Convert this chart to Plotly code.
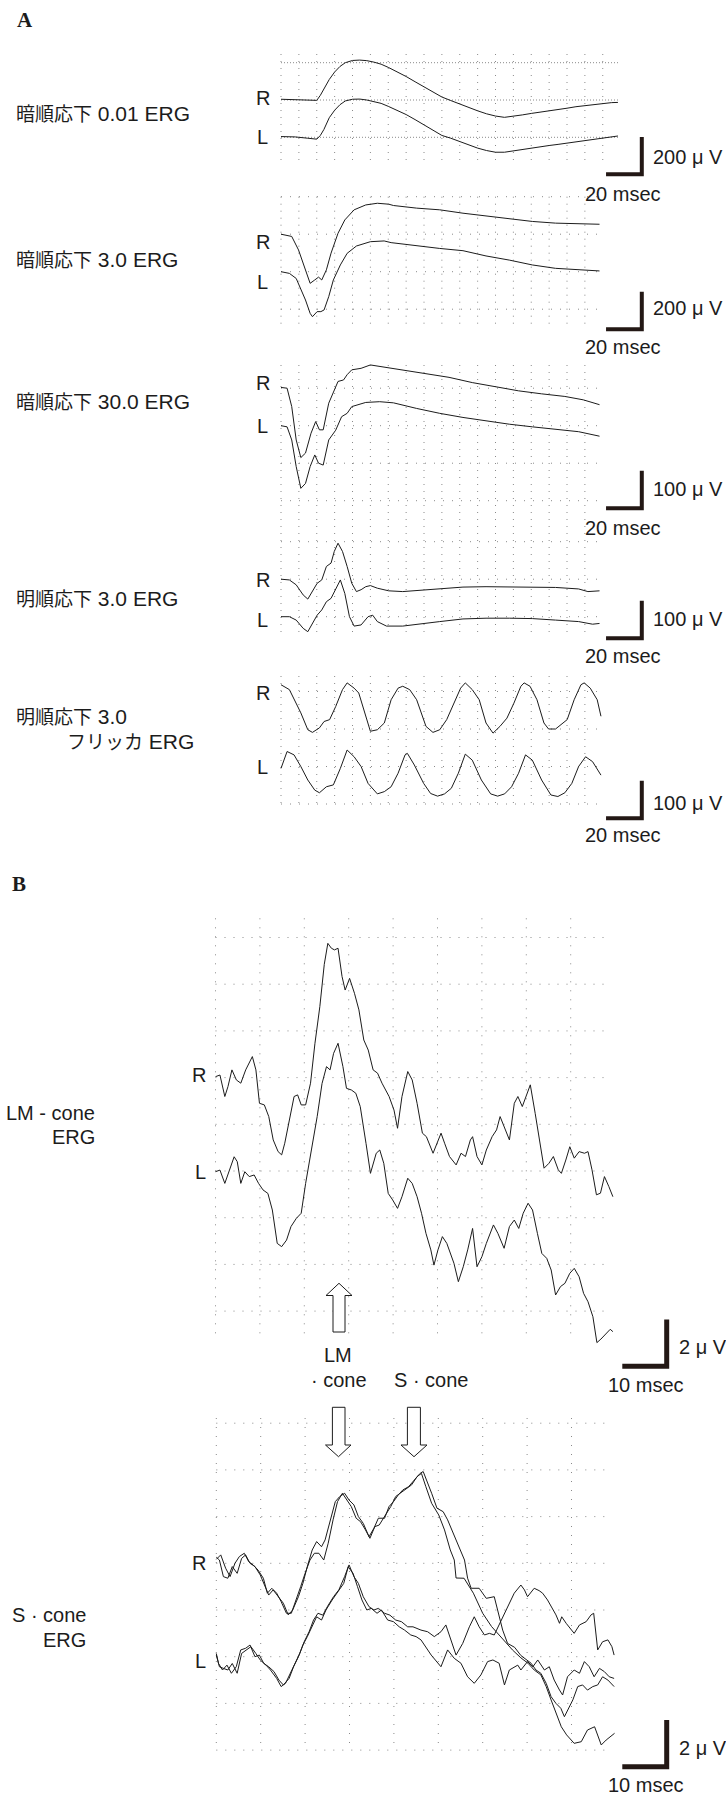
import plotly.graph_objects as go

W, H = 726, 1796
INK = "#1c1c1c"
BAR = "#231815"
GRID = "#8a8a8a"
SANS = "Liberation Sans, Arial, Noto Sans CJK JP, sans-serif"
SERIF = "Liberation Serif, Times New Roman, serif"

# ---------------------------------------------------------------------------
# Waveforms: (time in msec, amplitude in uV relative to each eye's baseline)
# ---------------------------------------------------------------------------
# A: ISCEV standard ERG
DARK001_R = [(0, 4), (8, 2), (15, -2), (20, -2), (22, 25), (24, 60), (27, 110), (30, 150), (33, 180),
             (36, 200), (40, 212), (44, 214), (48, 211), (52, 203), (56, 192), (60, 175), (65, 152),
             (70, 126), (75, 98), (80, 70), (85, 40), (90, 16), (95, -3), (100, -22), (105, -40),
             (110, -58), (115, -74), (120, -86), (125, -93), (130, -88), (135, -80), (140, -72),
             (145, -66), (150, -58), (155, -52), (160, -44), (165, -36), (170, -30), (175, -24),
             (180, -17), (185, -14), (188.5, -13)]
DARK001_L = [(0, 4), (8, 2), (15, -5), (20, -10), (22, 10), (24, 42), (27, 105), (30, 145), (33, 175),
             (36, 195), (40, 204), (44, 205), (48, 200), (52, 192), (56, 182), (60, 166), (65, 146),
             (70, 122), (75, 95), (80, 66), (85, 36), (90, 10), (95, -5), (100, -24), (105, -42),
             (110, -58), (115, -71), (120, -80), (125, -80), (130, -72), (135, -65), (140, -58),
             (145, -50), (150, -44), (155, -38), (160, -31), (165, -24), (170, -18), (175, -11),
             (180, -3), (185, 3), (188.5, 7)]

DARK30_R = [(0, 0), (6, -12), (9.8, -84), (13.7, -190), (16.3, -262), (18.9, -244), (21, -229),
            (22.8, -244), (25.4, -190), (28, -101), (31.9, 5), (35.7, 76), (40.9, 130), (47.4, 156),
            (53.9, 165), (60.3, 160), (62.9, 153), (75.9, 139), (88.8, 130), (101.8, 112), (114.7, 98),
            (127.7, 80), (140.6, 68), (153.6, 59), (166.5, 55), (178.2, 53)]
DARK30_L = [(0, 0), (4.7, -9), (8.5, -36), (11.1, -89), (13.7, -151), (16.3, -222), (17.6, -240),
            (20.2, -213), (22.3, -213), (24.1, -204), (26.7, -133), (29.3, -44), (33.2, 36), (37, 98),
            (42.2, 137), (50, 160), (57.7, 164), (61.6, 155), (75.9, 137), (88.8, 124), (101.8, 112),
            (114.7, 84), (127.7, 62), (140.6, 36), (153.6, 18), (166.5, 9), (178.2, 4)]

DARK300_R = [(0, 2), (3.4, 0), (6, -49), (8.5, -138), (11.1, -185), (13.7, -173), (16.8, -120),
             (19.4, -89), (21.5, -111), (23.6, -111), (26.7, -40), (29.8, -4), (31.9, 18), (35, 22),
             (37, 36), (39.6, 49), (44.8, 53), (50, 62), (57.8, 56), (68.1, 49), (81.1, 40), (94, 29),
             (107, 15), (120, 3), (132.9, -7), (145.8, -15), (158.8, -22), (169.1, -31), (178.2, -44)]
DARK300_L = [(0, 0), (3.4, -3), (6, -38), (8.5, -109), (11.1, -167), (13.7, -154), (16.3, -109),
             (18.9, -78), (21, -100), (23.6, -105), (26.7, -38), (30.6, -12), (33.9, 24), (37, 33),
             (39.6, 51), (47.4, 62), (55.2, 64), (62.9, 61), (75.9, 46), (88.8, 33), (101.8, 22),
             (114.7, 13), (127.7, 4), (140.6, -3), (153.6, -10), (166.5, -16), (178.2, -28)]

LIGHT30_R = [(0, 0), (4.7, -2), (8.5, -15), (12.4, -42), (15, -53), (17.6, -33), (20.2, -11), (22.8, -2),
             (25.4, 34), (28, 43), (29.8, 74), (31.9, 96), (34.4, 74), (37, 34), (39.6, -11), (42.2, -33),
             (44.8, -28), (47.4, -20), (50, -17), (53.9, -24), (60.3, -31), (68.1, -33), (75.9, -30),
             (83.7, -28), (91.4, -24), (101.8, -21), (114.7, -20), (127.7, -20), (140.6, -20),
             (153.6, -22), (166.5, -26), (171.7, -33), (178.2, -31)]
LIGHT30_L = [(0, 0), (4.7, 0), (8.5, -9), (12.4, -31), (15, -40), (17.6, -18), (20.2, 4), (22.8, 18),
             (25.4, 40), (28, 49), (29.8, 67), (33.2, 98), (35.7, 62), (38.3, 0), (40.9, -25), (44.8, -22),
             (48.7, 0), (51.3, 4), (53.9, -13), (59, -25), (68.1, -25), (75.9, -20), (88.8, -13),
             (101.8, -6), (114.7, -4), (127.7, -4), (140.6, -5), (153.6, -9), (166.5, -13), (174.3, -20),
             (178.2, -18)]

FLICKER_R = [(0, 118), (4.7, 105), (11.1, 43), (15, -2), (17.6, -9), (21.5, 3), (24.1, 20), (27.2, 25),
             (30.6, 60), (34.4, 105), (37, 123), (40.9, 109), (43.5, 96), (47.4, 34), (50, -6), (53.9, -2),
             (57.8, 16), (61.6, 78), (65.5, 109), (68.1, 114), (72, 105), (75.9, 78), (81.1, 7), (85, -9),
             (88.8, -2), (92.7, 25), (96.6, 69), (100.5, 109), (103.1, 123), (107, 105), (110.9, 78),
             (114.7, 16), (118.6, -11), (122.5, 7), (126.4, 29), (130.3, 69), (134.2, 114), (136, 123),
             (139.3, 114), (143.2, 78), (147.1, 16), (149.7, 0), (153.6, 0), (157.5, 14), (160.1, 25),
             (164, 78), (167.8, 118), (169.6, 123), (173, 109), (176.9, 78), (179, 34)]
FLICKER_L = [(0, 95), (3.4, 140), (7.3, 131), (11.1, 100), (15, 64), (18.9, 37), (21.5, 30), (25.4, 46),
             (29.3, 51), (33.2, 95), (37, 144), (40.9, 126), (44.8, 100), (48.7, 55), (53.9, 27), (57.8, 33),
             (61.6, 46), (65.5, 82), (69.4, 131), (70.7, 135), (74.6, 104), (79.8, 55), (83.7, 28),
             (87.6, 21), (91.5, 27), (95.3, 42), (99.2, 82), (103.1, 133), (107, 117), (112.1, 64),
             (117.3, 27), (121.2, 21), (125.1, 27), (129, 46), (132.9, 82), (136.8, 131), (140.6, 117),
             (145.8, 64), (151, 24), (154.9, 20), (158.8, 30), (162.7, 55), (166.5, 100), (170.4, 126),
             (174.3, 113), (179, 77)]

# B: LM-cone and S-cone ERG
LM_R = [(0, 0.04), (1.0, 0.11), (2.1, -0.81), (2.8, -0.39), (3.7, 0.33), (4.7, -0.1), (5.7, -0.24),
        (6.8, 0.33), (8.3, 0.9), (9.1, 0.33), (9.9, -1.1), (11.0, -1.17), (12.0, -1.67), (13.0, -2.67),
        (14.1, -3.17), (14.9, -3.31), (15.6, -2.81), (16.7, -1.67), (17.7, -0.81), (18.5, -0.74),
        (19.3, -1.17), (20.3, -1.17), (21.4, -0.24), (22.4, 1.47), (23.5, 3.04), (24.5, 4.85),
        (25.3, 5.75), (26.1, 5.54), (26.8, 5.47), (27.6, 5.54), (28.5, 4.33), (29.2, 3.75), (30.2, 4.25),
        (31.3, 3.61), (32.3, 2.9), (33.4, 1.61), (34.4, 1.18), (35.5, 0.33), (36.5, 0.19), (37.5, -0.24),
        (39.1, -0.81), (40.2, -1.39), (41.0, -2.17), (42.0, -0.81), (43.3, 0.26), (44.3, -0.1),
        (45.4, -1.1), (46.6, -2.38), (47.5, -2.53), (49.0, -3.24), (50.1, -2.67), (50.8, -2.38),
        (51.6, -2.81), (52.7, -3.38), (54.2, -3.74), (55.3, -3.24), (56.3, -3.38), (57.4, -2.67),
        (57.9, -2.53), (58.9, -3.38), (60.0, -3.74), (61.0, -3.1), (62.3, -2.53), (63.3, -2.24),
        (64.1, -1.67), (65.2, -2.24), (66.2, -2.67), (67.3, -1.1), (68.1, -0.81), (69.1, -1.24),
        (69.9, -0.81), (70.9, -0.31), (72.0, -1.53), (73.0, -2.81), (74.0, -3.88), (75.1, -3.67),
        (76.1, -3.38), (77.2, -3.95), (77.9, -4.1), (78.9, -3.53), (79.8, -2.96), (80.8, -3.45),
        (81.9, -3.17), (83.1, -3.24), (83.9, -3.17), (84.8, -3.95), (85.8, -5.02), (86.7, -4.95),
        (87.6, -4.24), (88.6, -4.67), (89.5, -5.1)]
LM_L = [(0, -0.03), (1.0, 0.04), (2.1, -0.53), (3.1, 0.04), (4.2, 0.61), (4.9, 0.4), (5.7, -0.53),
        (6.6, -0.03), (7.6, -0.24), (8.7, -0.17), (9.7, -0.53), (10.7, -0.81), (11.8, -0.96),
        (12.8, -1.67), (13.9, -3.1), (14.9, -3.24), (16.0, -2.96), (17.0, -2.38), (18.2, -2.03),
        (19.3, -1.81), (20.3, -0.53), (21.6, 0.9), (22.9, 2.33), (24.0, 3.75), (25.0, 4.47), (25.8, 4.33),
        (26.6, 5.04), (27.6, 5.47), (28.7, 4.47), (29.5, 3.54), (30.6, 3.47), (31.6, 3.33), (32.6, 2.76),
        (33.9, 1.18), (34.9, -0.1), (36.2, 0.76), (37.0, 0.9), (37.9, 0.33), (38.9, -0.96), (39.9, -1.24),
        (41.0, -1.6), (42.0, -1.1), (43.3, -0.31), (44.3, -0.53), (45.4, -1.1), (46.4, -1.81),
        (47.4, -2.67), (48.5, -3.38), (49.2, -4.03), (50.1, -3.38), (51.1, -2.81), (52.1, -3.1),
        (53.7, -3.95), (54.7, -4.74), (55.8, -4.1), (56.8, -3.38), (57.9, -2.46), (58.9, -4.1),
        (60.0, -3.67), (61.0, -3.1), (62.6, -2.31), (63.6, -2.67), (65.0, -3.31), (66.2, -2.38),
        (67.3, -2.1), (68.3, -2.46), (69.3, -1.81), (70.4, -1.38), (71.4, -1.67), (72.5, -2.67),
        (73.5, -3.53), (74.6, -3.74), (75.6, -4.24), (76.6, -5.31), (77.7, -4.95), (78.7, -4.81),
        (79.8, -4.38), (80.8, -4.17), (81.9, -4.53), (82.9, -5.24), (83.9, -5.6), (85.0, -6.24),
        (85.9, -7.35), (86.8, -7.2), (88.1, -6.95), (88.9, -6.78), (89.5, -6.88)]

S_R1 = [(0, 0.26), (0.7, 0.14), (1.6, -0.57), (2.6, -0.64), (3.6, -0.14), (4.7, -0.43), (5.7, 0.21),
        (6.6, 0.36), (7.6, 0), (8.7, -0.14), (9.9, -0.5), (10.9, -1.0), (11.8, -1.36), (12.8, -1.14),
        (13.9, -1.43), (15.1, -1.71), (16.2, -2.21), (17.2, -2.0), (18.5, -1.43), (19.5, -0.86),
        (20.5, -0.14), (21.6, 0.57), (22.6, 0.93), (23.7, 0.71), (24.5, 1.0), (25.8, 2.0), (26.8, 2.64),
        (27.8, 2.86), (28.9, 3.0), (29.9, 2.71), (31.0, 2.5), (32.0, 2.0), (33.1, 1.71), (34.4, 1.14),
        (35.5, 1.5), (36.5, 1.93), (37.9, 1.93), (38.9, 2.43), (39.9, 2.64), (41.0, 2.93), (42.0, 3.14),
        (43.3, 3.28), (44.6, 3.57), (45.9, 3.85), (46.6, 3.93), (47.4, 3.57), (48.5, 3.0), (49.7, 2.36),
        (51.1, 2.21), (52.1, 1.86), (53.7, 1.14), (55.0, 0.57), (55.9, 0.14), (56.6, -0.64),
        (57.4, -1.07), (59.2, -1.07), (60.8, -1.5), (62.6, -1.43), (63.5, -2.14), (64.5, -2.86),
        (65.6, -3.43), (67.2, -3.6), (68.6, -3.95), (69.8, -4.14), (70.9, -4.28), (72.0, -4.57),
        (73.1, -4.71), (74.3, -5.14), (75.4, -5.71), (76.5, -6.0), (77.6, -6.21), (78.4, -6.57),
        (79.1, -6.28), (80.3, -5.85), (81.4, -5.28), (82.5, -5.21), (83.6, -5.43), (84.8, -5.28),
        (85.9, -5.21), (87.0, -4.86), (88.2, -5.0), (89.6, -5.28)]
S_R2 = [(0, 0.17), (1.0, 0.36), (2.1, -0.21), (3.1, -0.57), (4.2, 0.0), (5.2, 0.29), (6.3, 0.43),
        (7.3, 0.07), (8.3, -0.07), (9.4, -0.29), (10.6, -0.64), (11.5, -1.28), (12.5, -1.07),
        (13.6, -1.28), (14.6, -1.64), (15.8, -2.14), (16.9, -2.14), (17.9, -1.64), (19.0, -1.0),
        (20.0, -0.43), (21.1, 0.14), (22.1, 0.43), (23.1, 0.43), (24.2, 0.14), (25.2, 0.86), (26.3, 1.86),
        (27.3, 2.64), (28.4, 3.0), (29.4, 2.71), (30.4, 2.43), (31.5, 1.93), (32.5, 1.78), (33.6, 1.43),
        (34.6, 1.07), (35.7, 1.57), (36.7, 1.64), (38.1, 2.07), (39.3, 2.43), (40.4, 2.86), (41.4, 3.0),
        (42.8, 3.21), (44.0, 3.36), (45.2, 3.71), (46.2, 3.85), (47.2, 3.28), (48.5, 2.57), (50.1, 2.07),
        (51.4, 1.43), (52.7, 0.57), (53.6, 0.14), (54.0, -0.63), (55.8, -0.64), (57.9, -1.28),
        (60.0, -2.14), (62.0, -2.71), (63.6, -3.07), (65.3, -3.41), (66.7, -3.71), (68.6, -4.05),
        (70.2, -4.28), (71.6, -4.57), (73.1, -4.78), (74.3, -5.28), (75.4, -5.85), (76.5, -6.42),
        (77.7, -7.0), (78.9, -7.35), (79.9, -7.57), (80.6, -7.71), (82.2, -7.64), (83.6, -7.14),
        (85.2, -7.0), (86.7, -7.78), (87.8, -7.57), (89.7, -7.28)]
S_L1 = [(0, 0.14), (0.5, -0.29), (1.4, -0.57), (2.4, -0.36), (3.4, -0.71), (4.5, -0.43), (5.5, 0.29),
        (6.6, 0.36), (7.6, 0.5), (8.7, 0.0), (9.7, 0.07), (10.7, -0.29), (11.8, -0.43), (13.0, -0.64),
        (14.1, -1.0), (15.1, -1.21), (16.4, -0.93), (17.4, -0.43), (18.5, 0.0), (19.5, 0.5), (20.5, 0.86),
        (21.6, 1.28), (22.6, 1.71), (23.7, 1.57), (24.7, 2.0), (26.1, 2.43), (27.4, 2.78), (28.7, 3.14),
        (29.7, 3.85), (30.8, 3.57), (31.8, 3.0), (32.8, 2.43), (33.9, 2.0), (34.9, 2.07), (36.2, 1.86),
        (37.2, 2.0), (38.6, 1.57), (39.9, 1.5), (41.2, 1.28), (42.4, 1.14), (43.8, 0.93), (45.0, 0.86),
        (46.1, 0.72), (48.4, 0.07), (50.6, -0.43), (52.1, 0.29), (53.6, -0.07), (55.1, -0.28),
        (56.6, -0.86), (58.1, -1.14), (59.6, -0.78), (61.1, -0.21), (62.3, -0.14), (63.7, -0.28),
        (64.9, -1.21), (66.0, -0.57), (67.9, -0.36), (68.6, -0.57), (70.1, -0.21), (71.3, -0.43),
        (72.4, -0.14), (73.9, -0.57), (75.0, -0.43), (76.1, -1.0), (77.3, -1.43), (78.0, -1.64),
        (79.1, -0.86), (80.6, -0.57), (81.8, -0.71), (82.9, -0.21), (84.0, -0.43), (85.1, -0.86),
        (86.3, -0.5), (87.4, -0.64), (88.5, -0.86), (89.6, -0.93)]
S_L2 = [(0, 0.07), (0.7, -0.43), (1.6, -0.5), (2.6, -0.57), (3.6, -0.29), (4.7, -0.71), (5.7, 0.14),
        (6.8, 0.29), (7.8, 0.43), (8.9, 0.14), (9.9, -0.14), (11.2, -0.36), (12.2, -0.57), (13.6, -0.93),
        (14.6, -1.28), (15.6, -1.14), (16.7, -0.71), (17.7, -0.29), (18.8, 0.14), (19.8, 0.64),
        (20.9, 1.07), (21.9, 1.57), (22.9, 1.86), (24.0, 1.78), (25.0, 2.14), (26.4, 2.57), (27.6, 2.86),
        (28.9, 3.43), (29.9, 3.93), (31.0, 3.43), (32.0, 3.14), (33.1, 2.57), (34.4, 2.14), (35.5, 2.0),
        (36.5, 2.07), (37.9, 1.86), (39.1, 1.78), (40.4, 1.57), (41.7, 1.5), (43.1, 1.28), (44.3, 1.28),
        (46.1, 1.14), (47.6, 1.07), (49.1, 0.86), (50.6, 1.07), (51.7, 1.36), (52.9, 0.72), (54.0, 0.07),
        (55.5, 0.57), (57.0, 1.28), (58.1, 1.71), (59.2, 1.28), (60.4, 0.93), (61.5, 1.0), (62.6, 0.93),
        (63.7, 1.36), (64.9, 1.86), (66.0, 2.29), (67.1, 2.72), (68.6, 3.07), (69.4, 2.86), (70.1, 2.57),
        (70.9, 2.78), (71.6, 2.93), (72.7, 2.83), (73.5, 2.72), (74.6, 2.43), (75.8, 2.0), (76.5, 1.79),
        (77.3, 1.43), (77.8, 1.71), (78.8, 1.43), (79.9, 1.14), (80.6, 1.0), (81.8, 1.36), (83.3, 1.5),
        (84.4, 1.79), (85.0, 1.86), (85.9, 0.29), (87.0, 0.64), (88.2, 0.72), (89.1, 0.43), (89.6, 0.07)]

# Calibration bars (msec, uV)
BAR_A_MS, BAR_B_MS = 20, 10
BAR_UV = [200, 200, 100, 100, 100, 2, 2]

fig = go.Figure()


def make_panel(n, x0, sx, y0, sy, box):
    """Axis pair whose data units map linearly to page pixels (x0/y0 = pixel of t=0 / v=0)."""
    left, right, top, bottom = box
    sfx = "" if n == 1 else str(n)
    fig.update_layout({
        "xaxis" + sfx: dict(domain=[left / W, right / W], range=[(left - x0) / sx, (right - x0) / sx],
                            visible=False, fixedrange=True, anchor="y" + sfx),
        "yaxis" + sfx: dict(domain=[1 - bottom / H, 1 - top / H], range=[(y0 - bottom) / sy, (y0 - top) / sy],
                            visible=False, fixedrange=True, anchor="x" + sfx),
    })
    return dict(xa="x" + sfx, ya="y" + sfx, x0=x0, sx=sx, y0=y0, sy=sy)


def t_at(p, px):
    return (px - p["x0"]) / p["sx"]


def v_at(p, py):
    return (p["y0"] - py) / p["sy"]


def lines(p, xs, ys, color, width, dash="solid"):
    fig.add_trace(go.Scatter(x=xs, y=ys, xaxis=p["xa"], yaxis=p["ya"], mode="lines",
                             line=dict(color=color, width=width, dash=dash),
                             hoverinfo="skip", showlegend=False))


def draw_grid(p, right_px, top_px, bottom_px, step, levels, vdash, hdash):
    t_end = t_at(p, right_px)
    v_hi, v_lo = v_at(p, top_px), v_at(p, bottom_px)
    xs, ys = [], []
    k = 0
    while k * step <= t_end + 1e-9:
        xs += [k * step, k * step, None]
        ys += [v_hi, v_lo, None]
        k += 1
    lines(p, xs, ys, GRID, 1, vdash)
    xs, ys = [], []
    for v in levels:
        xs += [0, t_end, None]
        ys += [v, v, None]
    lines(p, xs, ys, GRID, 1, hdash)


def draw_wave(p, pts, offset=0.0):
    lines(p, [a for a, _ in pts], [b + offset for _, b in pts], INK, 1.0)


def draw_bar(p, corner_px, dt, dv, width):
    t, v = t_at(p, corner_px[0]), v_at(p, corner_px[1])
    lines(p, [t - dt, t, t], [v, v, v + dv], BAR, width)


def label(text, px, py, size=20, anchor="left", family=SANS):
    fig.add_annotation(x=px / W, y=1 - py / H, xref="paper", yref="paper", text=text, showarrow=False,
                       xanchor=anchor, yanchor="middle", font=dict(size=size, family=family, color=INK))


def jp(text):
    return "<span style='font-size:19px'>" + text + "</span>"


# ---------------- A panels ----------------
A_X0, A_SX = 281, 1.7875
pA = [
    make_panel(1, A_X0, A_SX, 137.3, 0.1865, (279, 650, 50, 180)),
    make_panel(2, A_X0, A_SX, 271.7, 0.1875, (279, 650, 192, 334)),
    make_panel(3, A_X0, A_SX, 425.7, 0.375, (279, 650, 360, 531)),
    make_panel(4, A_X0, A_SX, 616.7, 0.375, (279, 650, 529, 643)),
    make_panel(5, A_X0, A_SX, 804.0, 0.375, (279, 650, 672, 825)),
]
draw_grid(pA[0], 618, 54, 160, 10, [0, 200, 400], "1px,6px", "1px,2px")
draw_grid(pA[1], 597, 196.7, 327, 10, [-200, 0, 200, 400], "1px,6px", "1px,8px")
draw_grid(pA[2], 597, 365, 528, 10, [-200, -100, 0, 100], "1px,6px", "1px,8px")
draw_grid(pA[3], 597, 533, 638, 10, [0, 100, 200], "1px,6px", "1px,8px")
draw_grid(pA[4], 597, 676, 804, 10, [0, 100, 200, 300], "1px,6px", "1px,8px")

draw_wave(pA[0], DARK001_R, 200)
draw_wave(pA[0], DARK001_L)
draw_wave(pA[1], DARK30_R, 200)
draw_wave(pA[1], DARK30_L)
draw_wave(pA[2], DARK300_R, 100)
draw_wave(pA[2], DARK300_L)
draw_wave(pA[3], LIGHT30_R, 100)
draw_wave(pA[3], LIGHT30_L)
draw_wave(pA[4], FLICKER_R, 200)
draw_wave(pA[4], FLICKER_L)

bar_corner_y = [174.2, 329.3, 508.3, 638.3, 818.3]
for i, p in enumerate(pA):
    draw_bar(p, (641.8, bar_corner_y[i]), BAR_A_MS, BAR_UV[i], 4)

uv_label_y = [156.7, 308.3, 489.3, 619.3, 803.3]
ms_label_y = [194.3, 346.7, 528.3, 656.0, 835.0]
for i in range(5):
    label(f"{BAR_UV[i]} μ V", 651, uv_label_y[i])
    label(f"{BAR_A_MS} msec", 623, ms_label_y[i], anchor="center")

rl_y = [(98.3, 137.0), (241.7, 281.7), (383.3, 426.0), (580.0, 620.0), (692.7, 766.7)]
for ry, ly in rl_y:
    label("R", 262.5, ry, anchor="center")
    label("L", 262.5, ly, anchor="center")

label(jp("暗順応下") + " 0.01 ERG", 14, 113.3, size=21)
label(jp("暗順応下") + " 3.0 ERG", 14, 260.0, size=21)
label(jp("暗順応下") + " 30.0 ERG", 14, 401.7, size=21)
label(jp("明順応下") + " 3.0 ERG", 14, 598.3, size=21)
label(jp("明順応下") + " 3.0", 14, 716.7, size=21)
label(jp("フリッカ") + " ERG", 65, 741.7, size=21)

label("<b>A</b>", 25, 20, size=21, anchor="center", family=SERIF)
label("<b>B</b>", 19, 884, size=21, anchor="center", family=SERIF)

# ---------------- B panels ----------------
pLM = make_panel(6, 215.5, 4.44, 1171.0, 23.35, (210, 676, 914, 1373))
pS = make_panel(7, 216.3, 4.44, 1656.7, 23.35, (210, 676, 1414, 1772))
draw_grid(pLM, 606.5, 918.3, 1340, 10, [-6, -4, -2, 0, 2, 4, 6, 8, 10], "1px,8px", "1px,8px")
draw_grid(pS, 608.8, 1418, 1750, 10, [-4, -2, 0, 2, 4, 6, 8, 10], "1px,8px", "1px,8px")

draw_wave(pLM, LM_R, 4)
draw_wave(pLM, LM_L)
draw_wave(pS, S_R1, 4)
draw_wave(pS, S_R2, 4)
draw_wave(pS, S_L1)
draw_wave(pS, S_L2)

draw_bar(pLM, (666.7, 1366.3), BAR_B_MS, BAR_UV[5], 5)
draw_bar(pS, (666.7, 1766.7), BAR_B_MS, BAR_UV[6], 5)
label(f"{BAR_UV[5]} μ V", 677, 1346.5)
label(f"{BAR_B_MS} msec", 646, 1385, anchor="center")
label(f"{BAR_UV[6]} μ V", 677, 1748.3)
label(f"{BAR_B_MS} msec", 646, 1785, anchor="center")

label("R", 199, 1075, anchor="center")
label("L", 200, 1171.7, anchor="center")
label("R", 199, 1562.7, anchor="center")
label("L", 200, 1660.7, anchor="center")

label("LM - cone", 97, 1113.3, anchor="right")
label("ERG", 97, 1137.3, anchor="right")
label("S · cone", 88, 1615, anchor="right")
label("ERG", 88, 1640, anchor="right")

label("LM", 338, 1355, anchor="center")
label("· cone", 339, 1380, anchor="center")
label("S · cone", 430.5, 1380, anchor="center")


def outline(pts):
    return "M " + " L ".join(f"{x / W:.5f},{1 - y / H:.5f}" for x, y in pts) + " Z"


ARROWS = [
    [(339, 1283.3), (352, 1295.5), (345, 1295.5), (345, 1332), (333, 1332), (333, 1295.5), (326, 1295.5)],
    [(332.4, 1407.3), (345, 1407.3), (345, 1445), (351, 1445), (338.5, 1456.7), (325.5, 1445), (332.4, 1445)],
    [(407.4, 1407.3), (420.4, 1407.3), (420.4, 1445), (427, 1445), (414, 1456.7), (401, 1445), (407.4, 1445)],
]
for pts in ARROWS:
    fig.add_shape(type="path", path=outline(pts), xref="paper", yref="paper",
                  line=dict(color=INK, width=1), fillcolor="white")

fig.update_layout(width=W, height=H, margin=dict(l=0, r=0, t=0, b=0),
                  paper_bgcolor="white", plot_bgcolor="rgba(0,0,0,0)", showlegend=False)

fig.write_html("out.html")
